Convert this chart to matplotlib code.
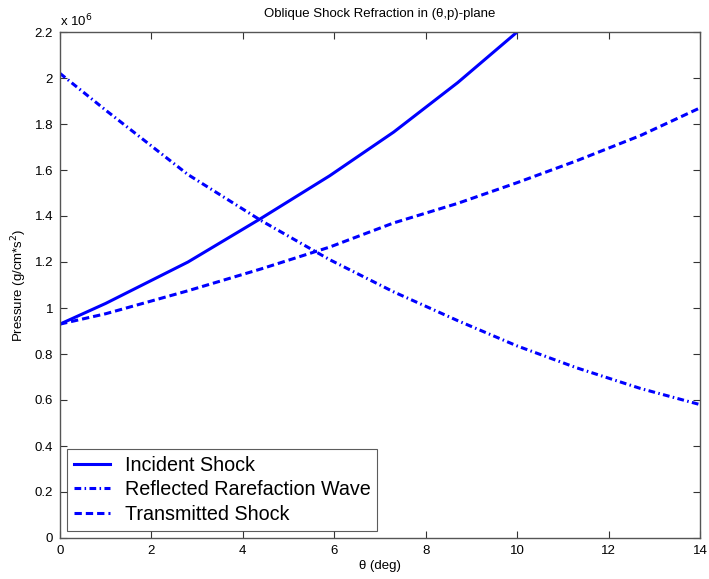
import numpy as np
import matplotlib.pyplot as plt
from matplotlib.ticker import FuncFormatter

plt.rcParams['font.family'] = ['Liberation Sans', 'DejaVu Sans']

# theta (deg) sample points and pressure values (x 1e6 g/cm*s^2)
theta_inc = [0, 1, 2.8, 4.4, 5.9, 7.3, 8.7, 10.0, 11.3]
p_incident = [0.93, 1.02, 1.20, 1.39, 1.575, 1.765, 1.98, 2.20, 2.44]

theta = [0, 1, 2.8, 4.4, 5.9, 7.3, 8.7, 10.0, 11.3, 12.7, 14.0]
p_reflected = [2.02, 1.86, 1.58, 1.38, 1.21, 1.07, 0.945, 0.835, 0.74, 0.65, 0.58]
p_transmitted = [0.93, 0.975, 1.075, 1.17, 1.265, 1.37, 1.455, 1.545, 1.64, 1.75, 1.87]

scale = 1e6

fig = plt.figure(figsize=(7.09, 5.79), dpi=100)
ax = fig.add_axes([60 / 709, 1 - 538 / 579, 640 / 709, 506 / 579])

blue = '#0000ff'
ax.plot(theta_inc, np.array(p_incident) * scale, color=blue, lw=2.2,
        label='Incident Shock')
ax.plot(theta, np.array(p_reflected) * scale, color=blue, lw=2.2,
        dashes=(2.2, 1.1, 0.5, 1.1), label='Reflected Rarefaction Wave')
ax.plot(theta, np.array(p_transmitted) * scale, color=blue, lw=2.2,
        dashes=(2.4, 1.3), label='Transmitted Shock')

ax.set_xlim(0, 14)
ax.set_ylim(0, 2.2e6)
ax.set_xticks(np.arange(0, 15, 2))
ax.set_yticks(np.arange(0, 2.21e6, 0.2e6))
ax.yaxis.set_major_formatter(FuncFormatter(lambda v, pos: '%g' % round(v / scale, 1)))

ax.tick_params(direction='in', top=True, right=True, length=5, width=0.8,
               labelsize=9.5, colors='#333333', labelcolor='black', pad=5)
for s in ax.spines.values():
    s.set_color('#555555')
    s.set_linewidth(1.0)

ax.text(0, 1.006, r'x 10$^{6}$', transform=ax.transAxes, fontsize=9.5,
        ha='left', va='bottom')
ax.set_title('Oblique Shock Refraction in (\u03b8,p)-plane', fontsize=9.5, pad=11)
ax.set_xlabel('\u03b8 (deg)', fontsize=9.5, labelpad=2)
ax.set_ylabel('Pressure (g/cm*s$^2$)', fontsize=9.5)

leg = ax.legend(loc='lower left', fontsize=14.2, frameon=True, fancybox=False,
                edgecolor='#333333', handlelength=1.8, borderaxespad=0.38,
                labelspacing=0.28, borderpad=0.35, handletextpad=0.75)
leg.get_frame().set_linewidth(0.8)

fig.savefig('out.png', dpi=100)
